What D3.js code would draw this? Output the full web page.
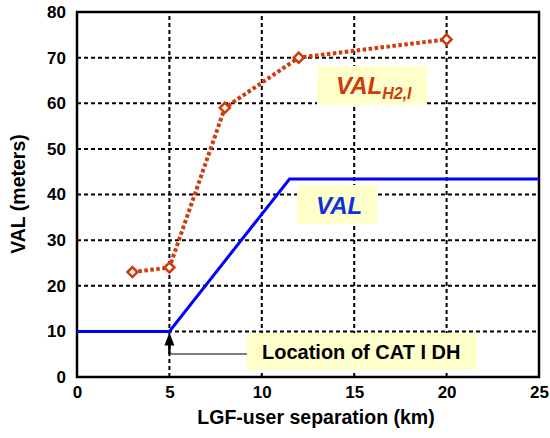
<!DOCTYPE html>
<html><head><meta charset="utf-8">
<script src="https://cdn.jsdelivr.net/npm/d3@7"></script>
<style>body{margin:0;background:#fff;} text{font-family:Arial,"Liberation Sans",sans-serif;font-weight:bold;}</style>
</head><body>
<svg id="c" width="550" height="438"></svg>
<script>
const valX = [0, 5, 11.5, 25];
const valY = [10, 10, 43.4, 43.4];
const h2X = [3, 5, 8, 12, 20];
const h2Y = [23, 24, 59, 70, 74];
const xTicks = [0, 5, 10, 15, 20, 25];
const yTicks = [0, 10, 20, 30, 40, 50, 60, 70, 80];

const svg = d3.select("#c");
const x = d3.scaleLinear().domain([0, 25]).range([77, 539]);
const y = d3.scaleLinear().domain([0, 80]).range([377, 12]);

// grid
svg.append("g").selectAll("line").data(yTicks.filter(d => d > 0 && d < 80)).join("line")
  .attr("x1", x(0)).attr("x2", x(25)).attr("y1", d => y(d)).attr("y2", d => y(d))
  .attr("stroke", "#000").attr("stroke-width", 2).attr("stroke-dasharray", "4,3");
svg.append("g").selectAll("line").data(xTicks.filter(d => d > 0 && d < 25)).join("line")
  .attr("y1", y(0)).attr("y2", y(80)).attr("x1", d => x(d)).attr("x2", d => x(d))
  .attr("stroke", "#000").attr("stroke-width", 2).attr("stroke-dasharray", "4,3");

// frame
svg.append("rect").attr("x", x(0)).attr("y", y(80)).attr("width", x(25) - x(0)).attr("height", y(0) - y(80))
  .attr("fill", "none").attr("stroke", "#000").attr("stroke-width", 2.5);

// axes labels
const xa = d3.axisBottom(x).tickValues(xTicks).tickSize(0).tickPadding(9);
const gx = svg.append("g").attr("transform", `translate(0,${y(0)})`).call(xa);
gx.select(".domain").remove();
gx.selectAll("text").attr("font-size", 17).attr("font-family", "Arial").attr("font-weight", "bold").attr("fill", "#000");
const ya = d3.axisLeft(y).tickValues(yTicks).tickSize(0).tickPadding(11);
const gy = svg.append("g").attr("transform", `translate(${x(0)},0)`).call(ya);
gy.select(".domain").remove();
gy.selectAll("text").attr("font-size", 17).attr("font-family", "Arial").attr("font-weight", "bold").attr("fill", "#000");

svg.append("text").attr("x", 316).attr("y", 424).attr("text-anchor", "middle").attr("font-size", 19.5).text("LGF-user separation (km)");
svg.append("text").attr("transform", "translate(25,194) rotate(-90)").attr("text-anchor", "middle").attr("font-size", 19.5).text("VAL (meters)");

// VAL line
const line = d3.line().x(d => x(d[0])).y(d => y(d[1]));
svg.append("path").datum(valX.map((v, i) => [v, valY[i]])).attr("d", line)
  .attr("fill", "none").attr("stroke", "#0000ff").attr("stroke-width", 3);

// VAL_H2 line
const orange = "#d03a0c";
svg.append("path").datum(h2X.map((v, i) => [v, h2Y[i]])).attr("d", line)
  .attr("fill", "none").attr("stroke", orange).attr("stroke-width", 4).attr("stroke-dasharray", "3.5,2.5");
svg.append("g").selectAll("path").data(h2X.map((v, i) => [v, h2Y[i]])).join("path")
  .attr("transform", d => `translate(${x(d[0])},${y(d[1])})`)
  .attr("d", "M0,-5L5,0L0,5L-5,0Z").attr("fill", "#fff").attr("stroke", orange).attr("stroke-width", 2.5);

// annotation boxes
const boxFill = "#ffffcc";
svg.append("rect").attr("x", 317).attr("y", 66).attr("width", 110).attr("height", 39).attr("fill", boxFill);
const t1 = svg.append("text").attr("x", 336).attr("y", 94).attr("fill", orange).attr("font-style", "italic").attr("font-size", 24);
t1.append("tspan").text("VAL");
t1.append("tspan").attr("font-size", 16).attr("dy", 5).text("H2,I");

svg.append("rect").attr("x", 297).attr("y", 185).attr("width", 80).attr("height", 39).attr("fill", boxFill);
svg.append("text").attr("x", 316).attr("y", 214).attr("fill", "#1030e0").attr("font-style", "italic").attr("font-size", 24).text("VAL");

// arrow
svg.append("path").attr("d", `M${x(5)},354H248`).attr("stroke", "#000").attr("stroke-width", 1.2).attr("fill", "none");
svg.append("path").attr("d", `M${x(5)},354V343`).attr("stroke", "#000").attr("stroke-width", 2.5).attr("fill", "none");
svg.append("path").attr("d", `M${x(5)},${y(10)+1}l-5,13h10z`).attr("fill", "#000");

svg.append("rect").attr("x", 247).attr("y", 333).attr("width", 230).attr("height", 37).attr("fill", boxFill);
svg.append("text").attr("x", 262).attr("y", 359).attr("fill", "#000").attr("font-size", 20).text("Location of CAT I DH");
</script>
</body></html>
